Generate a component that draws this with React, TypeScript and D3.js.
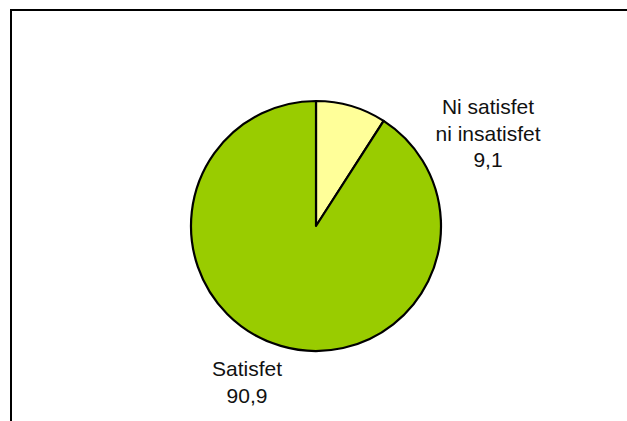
import React, { useEffect, useRef } from "react";
import * as d3 from "d3";

// slice data
const categories = ["Ni satisfet ni insatisfet", "Satisfet"];
const values = [9.1, 90.9];
const labelLines = [["Ni satisfet", "ni insatisfet", "9,1"], ["Satisfet", "90,9"]];
const colors = ["#FFFF99", "#99CC00"];

const App = () => {
  const ref = useRef<SVGSVGElement>(null);

  useEffect(() => {
    const width = 627,
      height = 421;
    const cx = 316,
      cy = 226,
      radius = 125;

    const svg = d3.select(ref.current);
    svg.selectAll("*").remove();

    svg.attr("width", width).attr("height", height);

    // chart area frame (runs off the right and bottom edges)
    svg
      .append("rect")
      .attr("x", 11)
      .attr("y", 10)
      .attr("width", width)
      .attr("height", height)
      .attr("fill", "white")
      .attr("stroke", "black")
      .attr("stroke-width", 2);

    const data = categories.map((c, i) => ({ category: c, value: values[i], lines: labelLines[i] }));

    const pie = d3
      .pie<any>()
      .value((d) => d.value)
      .sort(null);

    const arc = d3.arc<any>().innerRadius(0).outerRadius(radius);

    const g = svg.append("g").attr("transform", `translate(${cx},${cy})`);

    const arcs = pie(data);

    g.selectAll("path")
      .data(arcs)
      .enter()
      .append("path")
      .attr("d", arc)
      .attr("fill", (d, i) => colors[i])
      .attr("stroke", "black")
      .attr("stroke-width", 2.2)
      .attr("stroke-linejoin", "round");

    // label anchors, offset from the pie center (Excel-style outside labels)
    const labelOffsets = [
      [172, -112],
      [-69, 150],
    ];
    const lineHeight = 26.5;

    arcs.forEach((d, i) => {
      const t = g
        .append("text")
        .attr("x", labelOffsets[i][0])
        .attr("y", labelOffsets[i][1])
        .attr("text-anchor", "middle")
        .attr("font-family", "Liberation Sans, Arial, sans-serif")
        .attr("font-size", 21)
        .attr("fill", "#111");
      d.data.lines.forEach((line: string, j: number) => {
        t.append("tspan")
          .attr("x", labelOffsets[i][0])
          .attr("dy", j === 0 ? 0 : lineHeight)
          .text(line);
      });
    });
  }, []);

  return (
    <svg ref={ref} style={{ position: "absolute", left: 0, top: 0, display: "block" }}></svg>
  );
};

export default App;
